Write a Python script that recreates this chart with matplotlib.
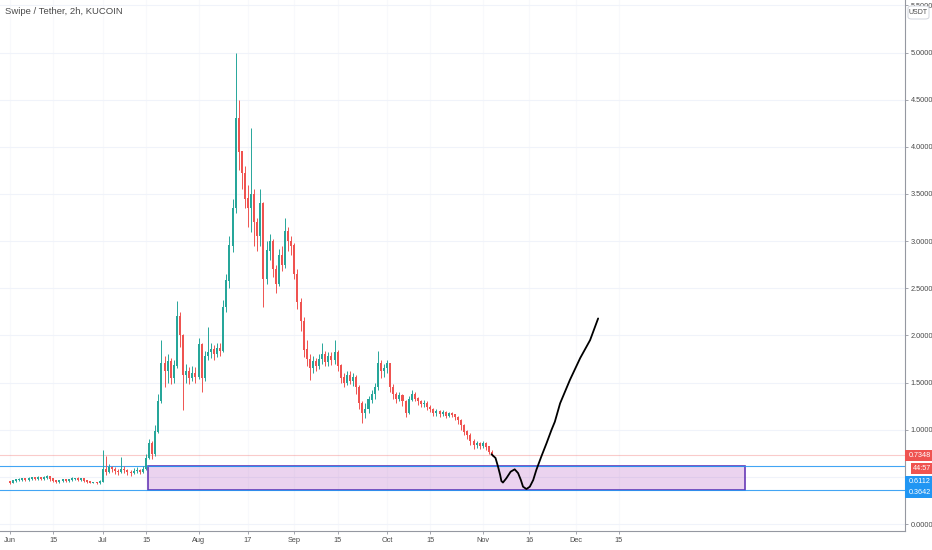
import numpy as np
import matplotlib
matplotlib.use("Agg")
import matplotlib.pyplot as plt
from matplotlib.patches import Rectangle, FancyBboxPatch
from matplotlib.transforms import blended_transform_factory

plt.rcParams['font.family'] = ['Liberation Sans', 'DejaVu Sans']

# daily candles, day 0 = 1 Jun 2020
closes = [0.44, 0.46, 0.47, 0.47, 0.48, 0.47, 0.48, 0.49, 0.48, 0.49,
          0.48, 0.49, 0.50, 0.48, 0.46, 0.45, 0.46, 0.47, 0.46, 0.47,
          0.48, 0.48, 0.47, 0.48, 0.46, 0.45, 0.44, 0.44, 0.43, 0.45,
          0.58, 0.55, 0.60, 0.58, 0.56, 0.55, 0.58, 0.57, 0.55, 0.54,
          0.56, 0.57, 0.55, 0.58, 0.70, 0.86, 0.74, 0.98, 1.30, 1.70,
          1.62, 1.72, 1.55, 1.68, 2.20, 2.00, 1.58, 1.62, 1.55, 1.60,
          1.56, 1.90, 1.55, 1.78, 1.82, 1.85, 1.80, 1.86, 1.84, 2.30,
          2.58, 2.95, 3.35, 4.30, 3.95, 3.72, 3.45, 3.35, 3.50, 3.20,
          3.05, 3.40, 2.60, 2.90, 3.00, 2.70, 2.55, 2.85, 2.75, 3.10,
          3.00, 2.95, 2.65, 2.35, 2.15, 1.85, 1.75, 1.65, 1.72, 1.68,
          1.75, 1.80, 1.72, 1.78, 1.74, 1.82, 1.68, 1.55, 1.50, 1.58,
          1.52, 1.56, 1.45, 1.28, 1.18, 1.22, 1.32, 1.38, 1.45, 1.70,
          1.62, 1.65, 1.70, 1.45, 1.38, 1.33, 1.36, 1.30, 1.18, 1.32,
          1.38, 1.33, 1.30, 1.27, 1.28, 1.24, 1.22, 1.18, 1.19, 1.17,
          1.18, 1.15, 1.17, 1.16, 1.13, 1.10, 1.05, 0.98, 0.94, 0.88,
          0.84, 0.85, 0.83, 0.86, 0.82, 0.76, 0.735]
highs = [0.46, 0.47, 0.48, 0.49, 0.49, 0.49, 0.50, 0.50, 0.50, 0.51,
         0.50, 0.51, 0.52, 0.50, 0.48, 0.47, 0.47, 0.48, 0.48, 0.48,
         0.50, 0.49, 0.50, 0.49, 0.48, 0.47, 0.46, 0.45, 0.45, 0.47,
         0.78, 0.72, 0.64, 0.62, 0.60, 0.58, 0.71, 0.61, 0.58, 0.57,
         0.59, 0.60, 0.58, 0.62, 0.74, 0.90, 0.88, 1.05, 1.38, 1.95,
         1.78, 1.80, 1.76, 1.74, 2.36, 2.25, 2.02, 1.70, 1.66, 1.68,
         1.66, 1.97, 1.92, 1.84, 2.09, 1.92, 1.90, 1.92, 1.92, 2.38,
         2.65, 3.05, 3.45, 5.00, 4.50, 3.95, 3.80, 3.60, 4.20, 3.55,
         3.25, 3.55, 3.42, 3.00, 3.08, 3.02, 2.75, 2.92, 2.95, 3.24,
         3.15, 3.05, 2.98, 2.70, 2.40, 2.20, 1.95, 1.80, 1.78, 1.76,
         1.80, 1.92, 1.84, 1.82, 1.82, 1.95, 1.85, 1.70, 1.60, 1.62,
         1.62, 1.60, 1.58, 1.47, 1.30, 1.28, 1.36, 1.42, 1.50, 1.84,
         1.74, 1.70, 1.74, 1.71, 1.48, 1.40, 1.40, 1.38, 1.32, 1.36,
         1.42, 1.40, 1.35, 1.32, 1.31, 1.30, 1.26, 1.23, 1.22, 1.21,
         1.21, 1.20, 1.19, 1.19, 1.17, 1.15, 1.11, 1.06, 1.00, 0.96,
         0.90, 0.88, 0.87, 0.88, 0.87, 0.83, 0.78]
lows = [0.42, 0.43, 0.45, 0.46, 0.46, 0.46, 0.46, 0.47, 0.47, 0.47,
        0.47, 0.47, 0.48, 0.46, 0.45, 0.44, 0.44, 0.45, 0.45, 0.45,
        0.46, 0.47, 0.46, 0.46, 0.45, 0.44, 0.43, 0.43, 0.42, 0.42,
        0.45, 0.52, 0.54, 0.55, 0.53, 0.52, 0.54, 0.54, 0.52, 0.51,
        0.53, 0.54, 0.53, 0.54, 0.57, 0.69, 0.69, 0.72, 0.96, 1.28,
        1.45, 1.50, 1.48, 1.50, 1.65, 1.88, 1.21, 1.50, 1.48, 1.52,
        1.50, 1.54, 1.40, 1.52, 1.74, 1.76, 1.74, 1.77, 1.78, 1.82,
        2.25, 2.50, 2.88, 3.30, 3.75, 3.55, 3.35, 3.15, 3.10, 2.95,
        2.90, 2.95, 2.30, 2.55, 2.80, 2.62, 2.45, 2.52, 2.68, 2.72,
        2.90, 2.85, 2.60, 2.28, 2.05, 1.77, 1.68, 1.53, 1.60, 1.62,
        1.64, 1.70, 1.68, 1.68, 1.69, 1.70, 1.62, 1.50, 1.45, 1.47,
        1.48, 1.46, 1.38, 1.22, 1.07, 1.12, 1.18, 1.28, 1.33, 1.42,
        1.55, 1.56, 1.60, 1.40, 1.33, 1.28, 1.30, 1.25, 1.13, 1.17,
        1.30, 1.30, 1.26, 1.24, 1.24, 1.21, 1.19, 1.15, 1.15, 1.14,
        1.15, 1.12, 1.13, 1.13, 1.10, 1.06, 1.00, 0.94, 0.90, 0.84,
        0.80, 0.81, 0.80, 0.81, 0.79, 0.74, 0.72]
first_open = 0.45

# hand-drawn projection (day, price)
path_days = [155.8, 157.1, 157.9, 158.6, 159.0, 159.5, 160.6, 162.0, 163.3,
             164.4, 165.3, 166.0, 167.1, 168.2, 169.3, 170.3, 171.9, 173.6,
             175.2, 176.3, 178.0, 181.2, 184.5, 187.7, 190.3]
path_prices = [0.74, 0.70, 0.61, 0.52, 0.456, 0.44, 0.485, 0.555, 0.58,
               0.54, 0.467, 0.396, 0.371, 0.396, 0.467, 0.573, 0.714, 0.856,
               0.997, 1.085, 1.28, 1.53, 1.76, 1.95, 2.18]

zone_start, zone_end = 44.7, 237.9
zone_low, zone_high = 0.3642, 0.6112
last_price = 0.7348

tick_days = [0, 14, 30, 44, 61, 77, 92, 106, 122, 136, 153, 168, 183, 197]
tick_labels = ['Jun', '15', 'Jul', '15', 'Aug', '17', 'Sep', '15', 'Oct',
               '15', 'Nov', '16', 'Dec', '15']
price_ticks = [0.0, 0.5, 1.0, 1.5, 2.0, 2.5, 3.0, 3.5, 4.0, 4.5, 5.0, 5.5]

up_col = '#26a69a'
down_col = '#ef5350'
blue = '#2196f3'

fig = plt.figure(figsize=(9.32, 5.5), dpi=100)
ax = fig.add_axes([0, 19 / 550, 905 / 932, 531 / 550])
ax.set_xlim(-3.24, 289.6)
ax.set_ylim(-0.074, 5.557)

days = np.arange(len(closes))
opens = np.array([first_open] + closes[:-1])
closes_a = np.array(closes)
cols = [up_col if c >= o else down_col for o, c in zip(opens, closes_a)]
ax.vlines(days, lows, highs, colors=cols, linewidth=0.7, zorder=3)
ax.bar(days, np.abs(closes_a - opens) + 0.004, bottom=np.minimum(opens, closes_a),
       width=0.65, color=cols, linewidth=0, zorder=4)

# zone
ax.add_patch(Rectangle((zone_start, zone_low), zone_end - zone_start,
                       zone_high - zone_low, facecolor='#9c27b0', alpha=0.2,
                       edgecolor='none', zorder=1))
ax.add_patch(Rectangle((zone_start, zone_low), zone_end - zone_start,
                       zone_high - zone_low, facecolor='none',
                       edgecolor='#673ab7', linewidth=1.2, zorder=2))

ax.axhline(zone_high, color=blue, linewidth=0.8, alpha=0.85, zorder=2)
ax.axhline(zone_low, color=blue, linewidth=0.8, alpha=0.85, zorder=2)
ax.axhline(last_price, color=down_col, linewidth=0.8, alpha=0.3, zorder=2)

ax.plot(path_days, path_prices, color='black', linewidth=1.3, zorder=5,
        solid_capstyle='round', solid_joinstyle='round')

# axes styling
ax.yaxis.grid(True, color='#f0f3fa', linewidth=0.8, zorder=0)
ax.xaxis.grid(True, color='#f8f9fc', linewidth=0.8, zorder=0)
ax.set_axisbelow(True)
for s in ['top', 'left']:
    ax.spines[s].set_visible(False)
ax.spines['right'].set_color('#9598a1')
ax.spines['bottom'].set_color('#9598a1')
ax.yaxis.tick_right()
ax.set_yticks(price_ticks)
# 0.5000 sits under the price labels on the scale
ax.set_yticklabels(['' if v == 0.5 else '%.4f' % v for v in price_ticks])
ax.set_xticks(tick_days)
ax.set_xticklabels(tick_labels)
ax.tick_params(axis='both', colors='#9598a1', labelcolor='#4a4a4a',
               labelsize=5.3, length=2.5, width=0.6, pad=1.5)

# price axis labels
tr = blended_transform_factory(ax.transAxes, ax.transData)
xr = 932 / 905
h = 11 / 94.3
for yc, txt, col, x0 in [(0.725, '0.7348', down_col, 1.0),
                         (0.589, '44:57', down_col, 911 / 905),
                         (0.456, '0.6112', blue, 1.0),
                         (0.330, '0.3642', blue, 1.0)]:
    ax.add_patch(Rectangle((x0, yc - h / 2), xr - x0, h, facecolor=col,
                           edgecolor='none', transform=tr, clip_on=False,
                           zorder=10))
    ax.text((x0 + xr) / 2 + 0.001, yc, txt, transform=tr, color='white',
            fontsize=5.2, ha='center', va='center', zorder=11, clip_on=False)

# currency box top right
fig.add_artist(FancyBboxPatch((908 / 932, 1 - 19 / 550), 21 / 932, 13 / 550,
                              boxstyle='round,pad=0,rounding_size=0.004',
                              transform=fig.transFigure, facecolor='white',
                              edgecolor='#d1d4dc', linewidth=0.7, zorder=20))
fig.text(918.5 / 932, 1 - 12.5 / 550, 'USDT', fontsize=5.0, color='#4a4a4a',
         ha='center', va='center', zorder=21)

fig.text(5 / 932, 1 - 11 / 550, 'Swipe / Tether, 2h, KUCOIN', fontsize=6.8,
         color='#4a4a4a', ha='left', va='center')

fig.savefig('out.png', dpi=100)
